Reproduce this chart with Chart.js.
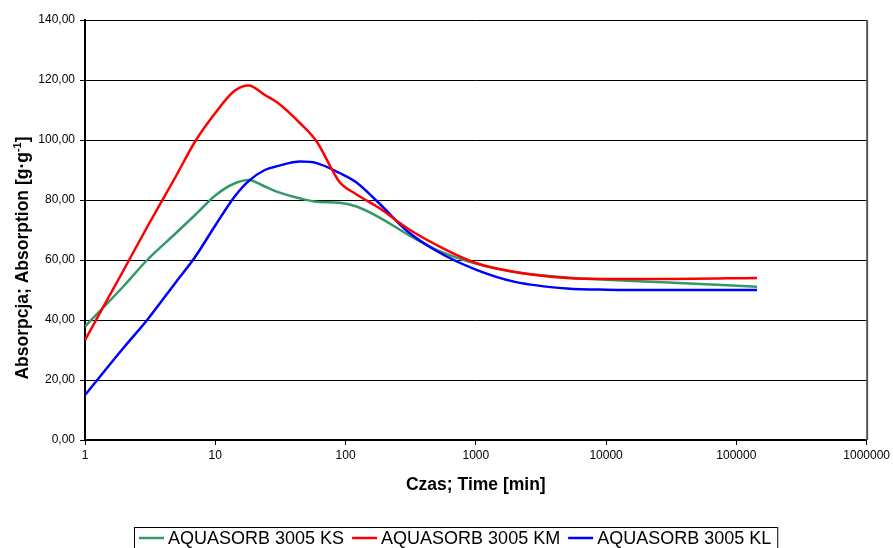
<!DOCTYPE html>
<html><head><meta charset="utf-8">
<script src="https://cdn.jsdelivr.net/npm/chart.js@4/dist/chart.umd.min.js"></script>
<style>html,body{margin:0;padding:0;background:#fff}#wrap{width:893px;height:548px;position:relative}</style>
</head><body><div id="wrap"><canvas id="c" width="893" height="548"></canvas></div>
<script>
const times = [1, 2, 3, 5, 7, 10, 14, 18, 24, 30, 45, 60, 90, 120, 180, 300, 500, 1000, 2000, 5000, 10000, 30000, 144000];
const ksValues = [37.8, 51.5, 60, 69, 75, 81.5, 85.5, 86.7, 84.5, 82.7, 80.5, 79.4, 79.1, 77.9, 74.3, 68.5, 63.4, 58.8, 56, 54.2, 53.4, 52.5, 51.1];
const kmValues = [33.3, 57, 71, 88, 99.5, 109, 116.3, 118.2, 115, 112.5, 105.5, 99.5, 86, 82, 77.4, 70.5, 65, 59, 56, 54, 53.7, 53.7, 54];
const klValues = [15, 31, 40, 52.7, 61, 71.5, 81, 86.3, 90, 91.3, 92.8, 92.3, 89, 86, 79, 69.5, 63, 56.8, 52.7, 50.5, 50.1, 50, 50];
const seriesLabels = ['AQUASORB 3005 KS', 'AQUASORB 3005 KM', 'AQUASORB 3005 KL'];
const seriesColors = ['#339966', '#ff0000', '#0000ff'];
const xTickValues = [1, 10, 100, 1000, 10000, 100000, 1000000];
const yTickValues = [0, 20, 40, 60, 80, 100, 120, 140];
const xTitle = 'Czas; Time [min]';
const yTitleParts = ['Absorpcja; Absorption [g\u00B7g', '-1', ']'];

const FONT = '"Liberation Sans", Arial, sans-serif';

function toPoints(vals) { return times.map((t, i) => ({ x: t, y: vals[i] })); }

const extras = {
  id: 'extras',
  afterDraw(chart) {
    const ctx = chart.ctx;
    const a = chart.chartArea;
    ctx.save();
    // right border
    ctx.strokeStyle = '#555';
    ctx.lineWidth = 2;
    ctx.beginPath();
    ctx.moveTo(a.right + 0.5, a.top);
    ctx.lineTo(a.right + 0.5, a.bottom);
    ctx.stroke();
    // x title
    ctx.fillStyle = '#000';
    ctx.font = 'bold 17.5px ' + FONT;
    ctx.textAlign = 'center';
    ctx.textBaseline = 'middle';
    ctx.fillText(xTitle, (a.left + a.right) / 2, 485);
    // y title with superscript
    ctx.save();
    ctx.translate(28, 258);
    ctx.rotate(-Math.PI / 2);
    ctx.textAlign = 'left';
    ctx.textBaseline = 'alphabetic';
    const mainFont = 'bold 17.5px ' + FONT;
    const supFont = 'bold 11px ' + FONT;
    ctx.font = mainFont;
    const w0 = ctx.measureText(yTitleParts[0]).width;
    const w2 = ctx.measureText(yTitleParts[2]).width;
    ctx.font = supFont;
    const w1 = ctx.measureText(yTitleParts[1]).width;
    let x = -(w0 + w1 + w2) / 2;
    ctx.font = mainFont;
    ctx.fillText(yTitleParts[0], x, 0);
    x += w0;
    ctx.font = supFont;
    ctx.fillText(yTitleParts[1], x, -7);
    x += w1;
    ctx.font = mainFont;
    ctx.fillText(yTitleParts[2], x, 0);
    ctx.restore();
    // legend
    ctx.font = '18px ' + FONT;
    ctx.textAlign = 'left';
    ctx.textBaseline = 'middle';
    let lx = 139;
    const ly = 538;
    for (let i = 0; i < seriesLabels.length; i++) {
      ctx.strokeStyle = seriesColors[i];
      ctx.lineWidth = 2.5;
      ctx.beginPath();
      ctx.moveTo(lx, ly);
      ctx.lineTo(lx + 25, ly);
      ctx.stroke();
      ctx.fillStyle = '#000';
      ctx.fillText(seriesLabels[i], lx + 29, ly + 1);
      lx += 29 + ctx.measureText(seriesLabels[i]).width + 8;
    }
    ctx.strokeStyle = '#000';
    ctx.lineWidth = 1;
    ctx.strokeRect(134.5, 527.5, lx - 134 - 2, 30);
    ctx.restore();
  }
};

new Chart(document.getElementById('c'), {
  type: 'line',
  data: {
    datasets: [
      { label: seriesLabels[0], data: toPoints(ksValues), borderColor: seriesColors[0], order: 3 },
      { label: seriesLabels[1], data: toPoints(kmValues), borderColor: seriesColors[1], order: 1 },
      { label: seriesLabels[2], data: toPoints(klValues), borderColor: seriesColors[2], order: 2 }
    ]
  },
  options: {
    responsive: false,
    animation: false,
    devicePixelRatio: 1,
    layout: { padding: { left: 0, right: 25, top: 20, bottom: 0 } },
    elements: {
      line: { borderWidth: 2.5, cubicInterpolationMode: 'monotone', fill: false },
      point: { radius: 0, hoverRadius: 0 }
    },
    plugins: { legend: { display: false }, tooltip: { enabled: false } },
    scales: {
      x: {
        type: 'logarithmic',
        min: 1, max: 1000000,
        afterBuildTicks(scale) { scale.ticks = xTickValues.map(v => ({ value: v, major: true })); },
        afterFit(scale) { scale.height = 108; },
        ticks: {
          autoSkip: false, maxRotation: 0, padding: 3,
          color: '#000', font: { family: FONT, size: 12 },
          callback: (v) => String(v)
        },
        grid: { drawOnChartArea: false, drawTicks: true, tickLength: 5, color: '#000', lineWidth: 1 },
        border: { color: '#000', width: 1.5 }
      },
      y: {
        type: 'linear',
        min: 0, max: 140,
        afterBuildTicks(scale) { scale.ticks = yTickValues.map(v => ({ value: v })); },
        afterFit(scale) { scale.width = 85; },
        ticks: {
          padding: 5, color: '#000', font: { family: FONT, size: 12 },
          callback: (v) => Number(v).toFixed(2).replace('.', ',')
        },
        grid: { color: '#000', lineWidth: 1, tickLength: 5, drawTicks: true },
        border: { color: '#000', width: 2 }
      }
    }
  },
  plugins: [extras]
});
</script></body></html>
